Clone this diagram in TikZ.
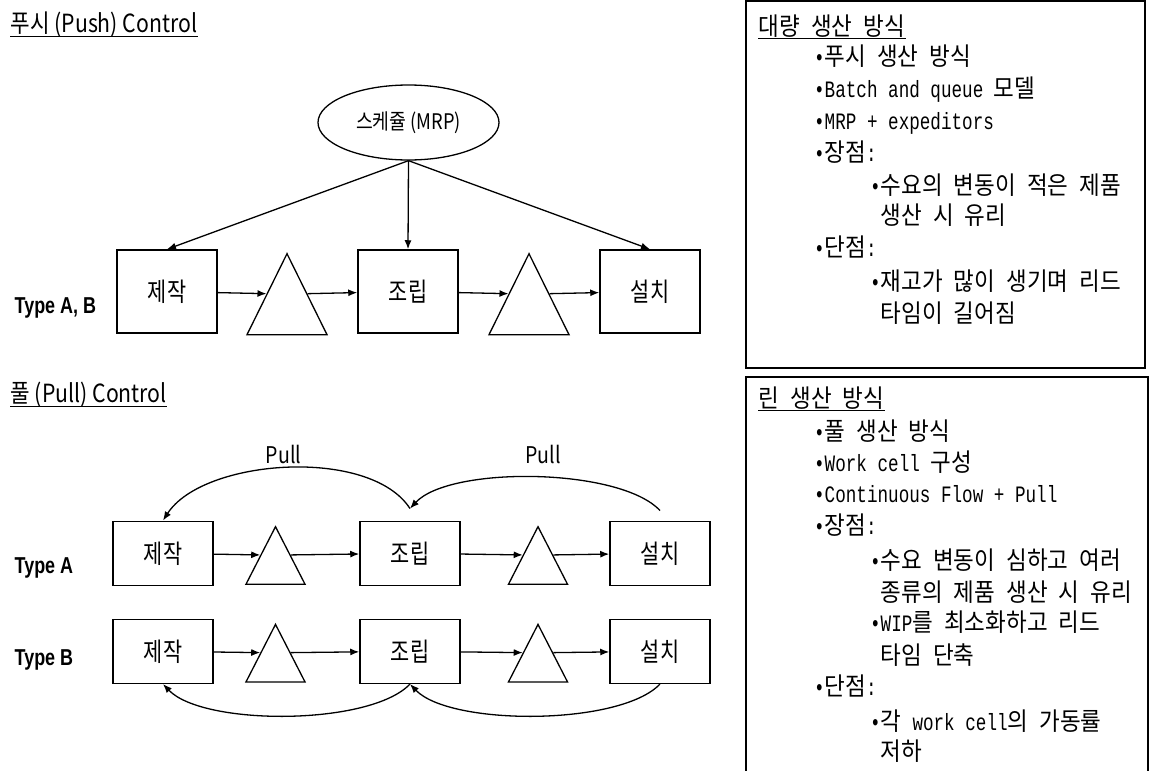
\documentclass[tikz,border=0pt]{standalone}
\usepackage{fontspec}
\setmainfont{Noto Sans CJK KR}
\newfontfamily\diafont[FakeStretch=0.85]{Noto Sans CJK KR}
\newfontfamily\boxfont[FakeStretch=0.8]{Noto Sans CJK KR}
\newfontfamily\panelfont[FakeStretch=0.9,WordSpace=2.2]{Noto Sans CJK KR}
\newfontfamily\pmono[FakeStretch=0.75]{Liberation Mono}
\newfontfamily\typefont[FakeStretch=0.78]{Liberation Sans}
\usetikzlibrary{arrows.meta,shapes.geometric}
\newcommand{\lat}[1]{{\pmono\fontsize{23.5}{26}\selectfont #1}}

\begin{document}
\begin{tikzpicture}[x=1pt,y=1pt,line width=1.3pt,>={Latex[length=9pt,width=7pt]},
  proc/.style={draw,line width=1.5pt,minimum width=100pt,inner sep=0pt,font=\boxfont\fontsize{26}{28}\selectfont},
  buf/.style={draw,isosceles triangle,isosceles triangle stretches,shape border rotate=90,inner sep=0pt,anchor=apex},
  ttl/.style={anchor=base west,inner sep=0pt,font=\diafont\fontsize{25}{28}\selectfont},
  typ/.style={anchor=base west,inner sep=0pt,font=\typefont\bfseries\fontsize{23}{27}\selectfont},
  pnl/.style={anchor=base west,inner sep=0pt,font=\panelfont\fontsize{25}{28}\selectfont}]
  \useasboundingbox (0,0) rectangle (1157,-771);
  % ===================== 푸시 (Push) =====================
  \node[ttl] (tPush) at (10,-32){푸시 (Push) Control};
  \draw[line width=1pt] ([yshift=-4pt]tPush.base west) -- ([yshift=-4pt]tPush.base east);
  % 스케쥴
  \node[draw,ellipse,minimum width=181pt,minimum height=75pt,inner sep=0pt,font=\diafont\fontsize{21.5}{24}\selectfont] (mrp) at (408.5,-122.5){스케쥴 (MRP)};
  % 공정
  \node[proc,minimum height=83pt] (jeP) at (167,-291.5){제작};
  \node[proc,minimum height=83pt] (joP) at (408,-291.5){조립};
  \node[proc,minimum height=83pt] (seP) at (650,-291.5){설치};
  \node[buf,minimum width=80pt,minimum height=81pt] (tP1) at (287,-252){};
  \node[buf,minimum width=80pt,minimum height=81pt] (tP2) at (529,-252){};
  \node[typ] (lAB) at (14,-313){Type A, B};
  % 흐름
  \draw[->] (mrp.south) -- (jeP.north);
  \draw[->] (mrp.south) -- (joP.north);
  \draw[->] (mrp.south) -- (seP.north);
  \draw[->] (jeP) -- (tP1.left side);  \draw[->] (tP1.right side) -- (joP);
  \draw[->] (joP) -- (tP2.left side);  \draw[->] (tP2.right side) -- (seP);
  % ===================== 풀 (Pull) =====================
  \node[ttl] (tPull) at (10,-402){풀 (Pull) Control};
  \draw[line width=1pt] ([yshift=-4pt]tPull.base west) -- ([yshift=-4pt]tPull.base east);
  % Type A
  \node[proc,minimum height=64pt] (jeA) at (163,-553.3){제작};
  \node[proc,minimum height=64pt] (joA) at (410,-553.3){조립};
  \node[proc,minimum height=64pt] (seA) at (660,-553.3){설치};
  \node[buf,minimum width=59pt,minimum height=57.5pt] (tA1) at (275.5,-525){};
  \node[buf,minimum width=59pt,minimum height=57.5pt] (tA2) at (538,-525){};
  \node[typ] (lA) at (14,-573){Type A};
  \draw[->] (jeA) -- (tA1.left side);  \draw[->] (tA1.right side) -- (joA);
  \draw[->] (joA) -- (tA2.left side);  \draw[->] (tA2.right side) -- (seA);
  % Type B
  \node[proc,minimum height=64pt] (jeB) at (163,-651.3){제작};
  \node[proc,minimum height=64pt] (joB) at (410,-651.3){조립};
  \node[proc,minimum height=64pt] (seB) at (660,-651.3){설치};
  \node[buf,minimum width=59pt,minimum height=57.5pt] (tB1) at (275.5,-622.7){};
  \node[buf,minimum width=59pt,minimum height=57.5pt] (tB2) at (538,-622.7){};
  \node[typ] (lB) at (14,-665){Type B};
  \draw[->] (jeB) -- (tB1.left side);  \draw[->] (tB1.right side) -- (joB);
  \draw[->] (joB) -- (tB2.left side);  \draw[->] (tB2.right side) -- (seB);
  % pull 신호
  \node[font=\diafont\fontsize{23}{26}\selectfont] (pl1) at (283.5,-454){Pull};
  \node[font=\diafont\fontsize{23}{26}\selectfont] (pl2) at (543,-454){Pull};
  \draw[->] ([yshift=10pt]seA.north) .. controls +(-40,43) and +(40,43) .. ([yshift=12pt]joA.north);
  \draw[->] ([yshift=12pt]joA.north) .. controls +(-40,62) and +(40,62) .. (jeA.north);
  \draw[->] (seB.south) .. controls +(-40,-42) and +(40,-42) .. (joB.south);
  \draw[->] (joB.south) .. controls +(-40,-42) and +(40,-42) .. (jeB.south);
  % ===================== 대량 생산 방식 =====================
  \draw[line width=1.6pt] (746,-1) rectangle (1145,-368);
  \node[pnl] (h1) at (758,-35){대량 생산 방식};
  \draw[line width=1pt] ([yshift=-3.5pt]h1.base west) -- ([yshift=-3.5pt]h1.base east);
  \node[pnl] (a1) at (813.5,-65){\lat{•}푸시 생산 방식};
  \node[pnl] (a2) at (813.5,-97){\lat{•Batch and queue }모델};
  \node[pnl] (a3) at (813.5,-129){\lat{•MRP + expeditors}};
  \node[pnl] (a4) at (813.5,-161){\lat{•}장점\lat{:}};
  \node[pnl] (a5) at (869.5,-194){\lat{•}수요의 변동이 적은 제품};
  \node[pnl] (a6) at (880,-224){생산 시 유리};
  \node[pnl] (a7) at (813.5,-256){\lat{•}단점\lat{:}};
  \node[pnl] (a8) at (869.5,-290){\lat{•}재고가 많이 생기며 리드};
  \node[pnl] (a9) at (880,-322){타임이 길어짐};
  % ===================== 린 생산 방식 =====================
  \draw[line width=1.6pt] (746,-775) |- (1148,-377) -- (1148,-775);
  \node[pnl] (h2) at (758,-407){린 생산 방식};
  \draw[line width=1pt] ([yshift=-3.5pt]h2.base west) -- ([yshift=-3.5pt]h2.base east);
  \node[pnl] (b1) at (813.5,-440){\lat{•}풀 생산 방식};
  \node[pnl] (b2) at (813.5,-471){\lat{•Work cell }구성};
  \node[pnl] (b3) at (813.5,-502){\lat{•Continuous Flow + Pull}};
  \node[pnl] (b4) at (813.5,-534){\lat{•}장점\lat{:}};
  \node[pnl] (b5) at (869.5,-569){\lat{•}수요 변동이 심하고 여러};
  \node[pnl] (b6) at (880,-601){종류의 제품 생산 시 유리};
  \node[pnl] (b7) at (869.5,-631){\lat{•WIP}를 최소화하고 리드};
  \node[pnl] (b8) at (880,-664){타임 단축};
  \node[pnl] (b9) at (813.5,-695){\lat{•}단점\lat{:}};
  \node[pnl] (b10) at (869.5,-730){\lat{•}각 \lat{work cell}의 가동률};
  \node[pnl] (b11) at (880,-760){저하};
\end{tikzpicture}
\end{document}
